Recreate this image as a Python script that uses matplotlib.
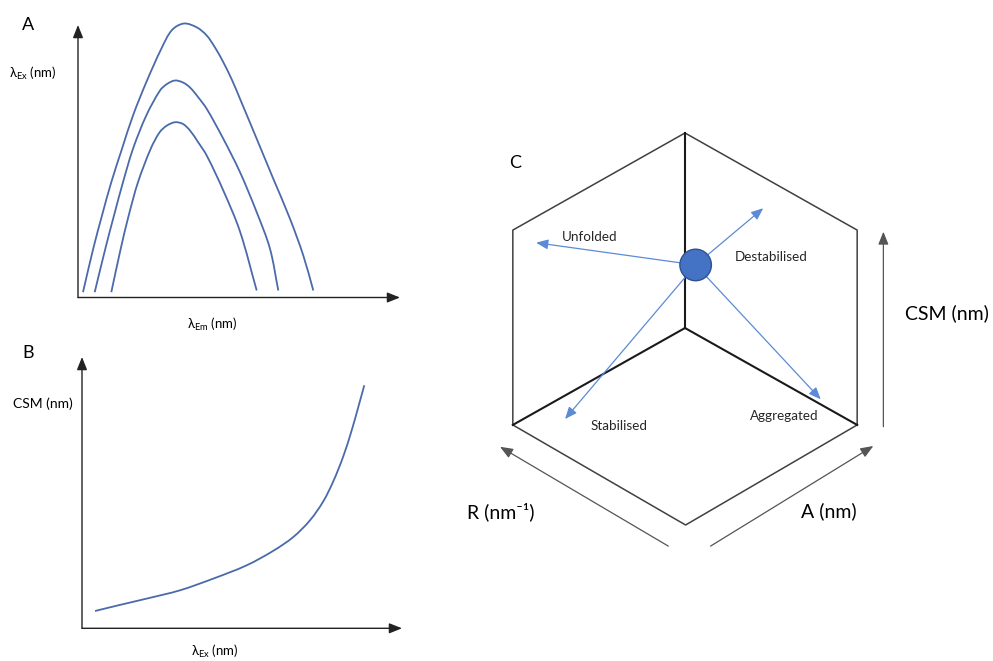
import matplotlib
matplotlib.use("Agg")
import matplotlib.pyplot as plt
from matplotlib.patches import Circle, PathPatch
from matplotlib.path import Path

plt.rcParams['font.family'] = ['Lato', 'DejaVu Sans']
plt.rcParams['mathtext.fontset'] = 'custom'
plt.rcParams['mathtext.rm'] = 'Lato'
plt.rcParams['mathtext.it'] = 'Lato:italic'

# Panel A: three excitation/emission curves (arbitrary units)
a_outer_x = [5, 15.2, 24, 33.3, 44, 55, 68.3, 83.3, 94, 106, 119, 128.7, 137, 145.3, 154, 162, 178.7, 195.3, 212, 225.3, 235.3]
a_outer_y = [5.3, 48.7, 82, 115.3, 148.7, 182, 215.3, 248.7, 267.5, 274, 270, 262, 250, 235.3, 217.5, 198.7, 158.7, 118.7, 78.7, 42, 7]
a_mid_x = [16.7, 27.3, 36, 45, 55, 68.3, 82, 89, 97, 105, 112, 120, 128.7, 145.3, 162, 178.7, 192, 200.3]
a_mid_y = [5.3, 48.7, 82, 115.3, 148.7, 182, 207, 213.5, 217, 215, 210, 200.5, 188.7, 158.7, 125.3, 85.3, 48.7, 7]
a_inner_x = [33.3, 42.7, 50.7, 60, 72.7, 81.7, 89, 97.3, 105, 112, 120, 128.7, 145.3, 162, 178.7]
a_inner_y = [5.3, 48.7, 82, 115.3, 148.7, 165.3, 172, 175.3, 173.5, 167, 155.5, 142, 107, 66, 7]

# Panel B: CSM vs excitation wavelength
b_x = [13, 38, 64.7, 98, 131.3, 164.7, 191.3, 211.3, 228, 241.3, 251.3, 261.3, 269.7, 276.3, 282.3]
b_y = [17.3, 23.4, 29.7, 38, 49.7, 63, 77.5, 91.3, 108, 127, 147, 172, 198, 221.3, 243]

# Panel C: hexagon (unit radius), state point and directions
hex_x = [0, 0.874, 0.874, 0.003, -0.874, -0.874, 0]
hex_y = [0.99, 0.497, -0.492, -1.0, -0.492, 0.497, 0.99]
inner_x = [0, -0.874, 0.874]
inner_y = [0.99, -0.492, -0.492]
state = (0.054, 0.320)
states = ['Unfolded', 'Destabilised', 'Stabilised', 'Aggregated']
state_tip = [(-0.756, 0.433), (0.397, 0.608), (-0.609, -0.462), (0.689, -0.362)]
state_lab = [(-0.486, 0.463), (0.440, 0.362), (-0.333, -0.497), (0.503, -0.447)]

W, H = 993, 661
fig = plt.figure(figsize=(W / 100, H / 100), dpi=100)

curve_col = '#4a6aaa'
axis_col = '#222222'
arrow_kw = dict(arrowstyle='-|>,head_length=0.55,head_width=0.22', color=axis_col,
                lw=1.0, shrinkA=0, shrinkB=0, mutation_scale=14)


def smooth(ax, xs, ys, **kw):
    # smooth curve through the read points (chord-length Catmull-Rom as cubic Bezier)
    pts = list(zip(xs, ys))
    n = len(pts)
    d = [((pts[i + 1][0] - pts[i][0]) ** 2 + (pts[i + 1][1] - pts[i][1]) ** 2) ** 0.5 for i in range(n - 1)]

    def tangent(i):
        if i == 0:
            return ((pts[1][0] - pts[0][0]) / d[0], (pts[1][1] - pts[0][1]) / d[0])
        if i == n - 1:
            return ((pts[-1][0] - pts[-2][0]) / d[-1], (pts[-1][1] - pts[-2][1]) / d[-1])
        s = d[i - 1] + d[i]
        return ((pts[i + 1][0] - pts[i - 1][0]) / s, (pts[i + 1][1] - pts[i - 1][1]) / s)

    verts, codes = [pts[0]], [Path.MOVETO]
    for i in range(n - 1):
        t1, t2 = tangent(i), tangent(i + 1)
        h = d[i] / 3
        c1 = (pts[i][0] + t1[0] * h, pts[i][1] + t1[1] * h)
        c2 = (pts[i + 1][0] - t2[0] * h, pts[i + 1][1] - t2[1] * h)
        verts += [c1, c2, pts[i + 1]]
        codes += [Path.CURVE4] * 3
    ax.add_patch(PathPatch(Path(verts, codes), fill=False, clip_on=False, **kw))


def panel(left, top, right, bottom):
    ax = fig.add_axes([left / W, (H - bottom) / H, (right - left) / W, (bottom - top) / H])
    ax.set_xlim(0, right - left)
    ax.set_ylim(0, bottom - top)
    ax.axis('off')
    ax.annotate('', xy=(1, 0), xytext=(0, 0), xycoords='axes fraction', arrowprops=arrow_kw)
    ax.annotate('', xy=(0, 1), xytext=(0, 0), xycoords='axes fraction', arrowprops=arrow_kw)
    return ax


# ---- A ----
axA = panel(78, 25, 400, 297.5)
for xs, ys in [(a_outer_x, a_outer_y), (a_mid_x, a_mid_y), (a_inner_x, a_inner_y)]:
    smooth(axA, xs, ys, edgecolor=curve_col, lw=1.3)
axA.text(-50, 272, 'A', fontsize=13, ha='center', va='center')
axA.text(-45, 224, r'λ$_{\mathrm{Ex}}$ (nm)', fontsize=9.5, ha='center', va='center')
axA.text(134, -27, r'λ$_{\mathrm{Em}}$ (nm)', fontsize=9.5, ha='center', va='center')

# ---- B ----
axB = panel(82, 357, 402, 628.3)
smooth(axB, b_x, b_y, edgecolor=curve_col, lw=1.3)
axB.text(-54, 275, 'B', fontsize=13, ha='center', va='center')
axB.text(-39, 225, 'CSM (nm)', fontsize=10, ha='center', va='center')
axB.text(133, -23, r'λ$_{\mathrm{Ex}}$ (nm)', fontsize=9.5, ha='center', va='center')

# ---- C ----
lim = 300 / 197
axC = fig.add_axes([385 / W, (H - 628) / H, 600 / W, 600 / H])
axC.set_xlim(-lim, lim)
axC.set_ylim(-lim, lim)
axC.axis('off')
axC.plot(hex_x, hex_y, color='#404040', lw=1.1)
for x, y in zip(inner_x, inner_y):
    axC.plot([0, x], [0, y], color='#1a1a1a', lw=1.5)

blue_kw = dict(arrowstyle='-|>,head_length=0.6,head_width=0.25', color='#5b8bd6',
               lw=0.9, shrinkA=0, shrinkB=0, mutation_scale=12)
for name, tip, lab in zip(states, state_tip, state_lab):
    axC.annotate('', xy=tip, xytext=state, arrowprops=blue_kw)
    axC.text(lab[0], lab[1], name, fontsize=9.7, ha='center', va='center', color='#262626')
axC.add_patch(Circle(state, 0.08, facecolor='#4472c4', edgecolor='#2f528f', lw=1, zorder=5))

axC.text(-0.863, 0.839, 'C', fontsize=13, ha='center', va='center')

gray_kw = dict(arrow_kw, color='#555555', lw=0.9)
axC.annotate('', xy=(1.007, 0.489), xytext=(1.007, -0.501), arrowprops=gray_kw)
axC.annotate('', xy=(-0.939, -0.603), xytext=(-0.085, -1.107), arrowprops=gray_kw)
axC.annotate('', xy=(0.956, -0.599), xytext=(0.130, -1.107), arrowprops=gray_kw)
axC.text(1.330, 0.076, 'CSM (nm)', fontsize=14, ha='center', va='center')
axC.text(-0.934, -0.932, 'R (nm⁻¹)', fontsize=14, ha='center', va='center')
axC.text(0.728, -0.932, 'A (nm)', fontsize=14, ha='center', va='center')

fig.savefig('out.png', dpi=100, facecolor='white')
